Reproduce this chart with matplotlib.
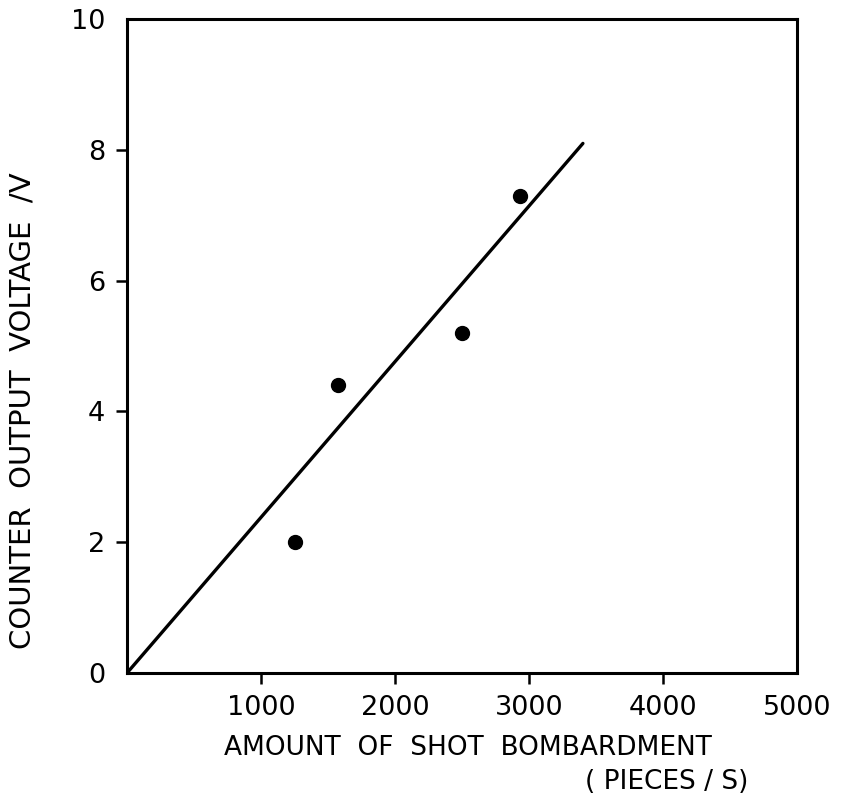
import matplotlib
matplotlib.use('Agg')
import matplotlib.pyplot as plt
import numpy as np

# measured points (shots per second, volts)
shots = [1250, 1570, 2500, 2930]
voltage = [2.0, 4.4, 5.2, 7.3]

# fitted line drawn in the figure
fit_x = [0, 3400]
fit_y = [0, 8.1]

x_ticks = [1000, 2000, 3000, 4000, 5000]
y_ticks = [0, 2, 4, 6, 8, 10]

fig = plt.figure(figsize=(8.42, 8.01), dpi=100)
ax = fig.add_axes([0.151, 0.160, 0.796, 0.816])

ax.plot(fit_x, fit_y, color='black', linewidth=2.4, solid_capstyle='round')
ax.plot(shots, voltage, 'o', color='black', markersize=10)

ax.set_xlim(0, 5000)
ax.set_ylim(0, 10)
ax.set_xticks(x_ticks)
ax.set_yticks(y_ticks)
ax.set_xticklabels([str(v) for v in x_ticks])
ax.set_yticklabels([str(v) for v in y_ticks])
ax.tick_params(direction='out', length=8, width=1.8, labelsize=19.5, pad=8)

# no tick marks where the labels sit on the corners
ax.xaxis.get_major_ticks()[-1].tick1line.set_visible(False)
ax.yaxis.get_major_ticks()[0].tick1line.set_visible(False)
ax.yaxis.get_major_ticks()[-1].tick1line.set_visible(False)

for s in ax.spines.values():
    s.set_linewidth(2.2)

fig.text(0.556, 0.066, 'AMOUNT  OF  SHOT  BOMBARDMENT', ha='center', va='center', fontsize=19)
fig.text(0.889, 0.024, '( PIECES / S)', ha='right', va='center', fontsize=19)
fig.text(0.027, 0.487, 'COUNTER  OUTPUT  VOLTAGE  /V', ha='center', va='center',
         rotation=90, fontsize=21)

plt.savefig('out.png', dpi=100)
